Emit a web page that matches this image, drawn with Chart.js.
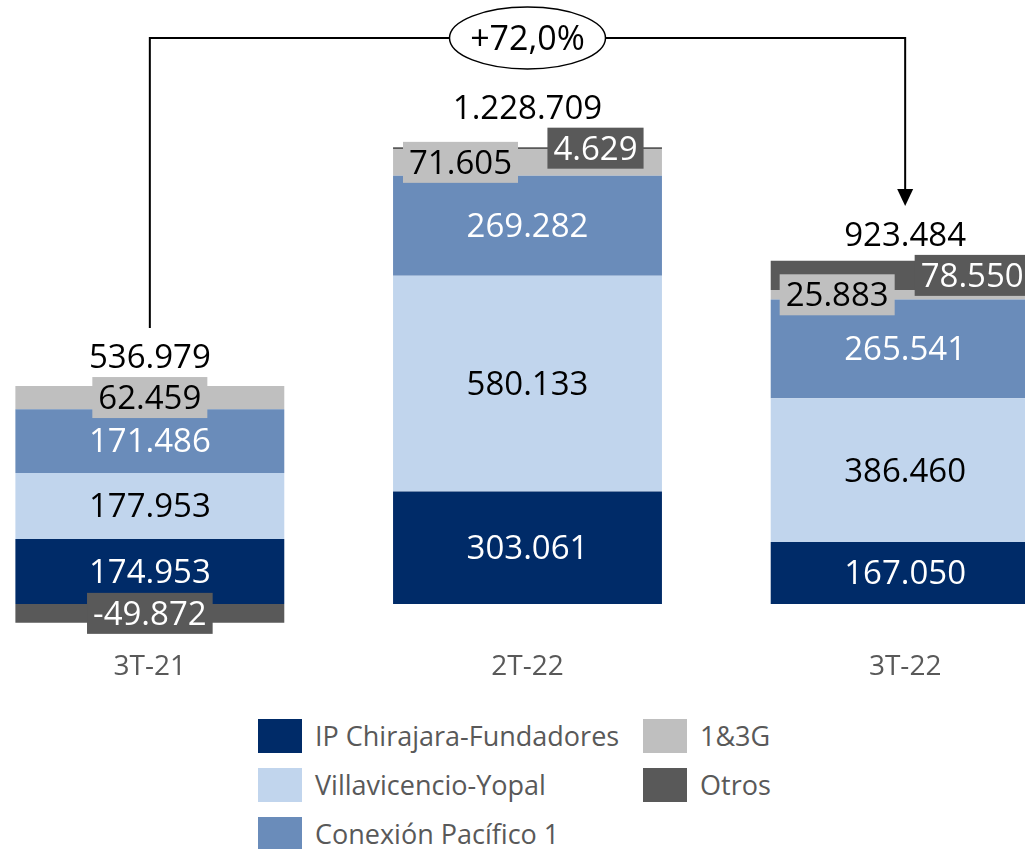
<!DOCTYPE html>
<html>
<head>
<meta charset="utf-8">
<script src="https://cdn.jsdelivr.net/npm/chart.js@4/dist/chart.umd.min.js"></script>
<style>
  body { margin: 0; background: #fff; overflow: hidden; width: 1025px; height: 849px; position: relative; }
  #wrap { position: absolute; left: -39px; top: 0; width: 1133px; height: 700px; }
  #legend {
    position: absolute; left: 258px; top: 711px;
    display: grid; grid-auto-flow: column;
    grid-template-rows: repeat(3, 49px); grid-template-columns: 385px auto;
    font-family: "Open Sans", sans-serif; font-size: 27px; color: #595959;
  }
  .item { display: flex; align-items: center; }
  .box { width: 44px; height: 34px; margin-right: 13px; }
</style>
</head>
<body>
<div id="wrap"><canvas id="myChart" width="1133" height="700"></canvas></div>
<div id="legend"></div>
<script>
// data
let categories = ['3T-21', '2T-22', '3T-22'];
let seriesNames = ['IP Chirajara-Fundadores', 'Villavicencio-Yopal', 'Conexión Pacífico 1', '1&3G', 'Otros'];
let seriesColors = ['#002b68', '#c1d5ed', '#6a8cba', '#bfbfbf', '#595959'];
let ipChirajara = [174953, 303061, 167050];
let villavicencio = [177953, 580133, 386460];
let pacifico1 = [171486, 269282, 265541];
let unoTresG = [62459, 71605, 25883];
let otros = [-49872, 4629, 78550];
let totals = [536979, 1228709, 923484];
let growthLabel = '+72,0%';

// label styling
let labelColors = ['#ffffff', '#000000', '#ffffff', '#000000', '#ffffff'];
// horizontal shift of the boxed labels (1&3G, Otros) per category
let boxShift = { 3: [0, -67, -68], 4: [0, 68, 67] };
let FONT = '33px "Open Sans"';

function fmt(n) {
    let s = Math.abs(n).toString().replace(/\B(?=(\d{3})+(?!\d))/g, '.');
    return (n < 0 ? '-' : '') + s;
}

let labelsPlugin = {
    id: 'labels',
    afterDatasetsDraw(chart) {
        let ctx = chart.ctx;
        ctx.save();
        ctx.font = FONT;
        ctx.textAlign = 'center';
        ctx.textBaseline = 'middle';
        let boxTops = [9999, 9999, 9999];
        chart.data.datasets.forEach((ds, i) => {
            let meta = chart.getDatasetMeta(i);
            meta.data.forEach((bar, j) => {
                let cy = (bar.y + bar.base) / 2;
                let txt = fmt(ds.data[j]);
                let cx = bar.x;
                if (i >= 3) {
                    cx += boxShift[i][j];
                    let w = ctx.measureText(txt).width + 12;
                    let h = 41;
                    ctx.fillStyle = seriesColors[i];
                    ctx.fillRect(cx - w / 2, cy - h / 2, w, h);
                    boxTops[j] = Math.min(boxTops[j], cy - h / 2);
                }
                ctx.fillStyle = labelColors[i];
                ctx.fillText(txt, cx, cy + 2);
            });
        });
        // totals
        let meta0 = chart.getDatasetMeta(0);
        let totY = [];
        meta0.data.forEach((bar, j) => {
            let y = boxTops[j] - 21;
            totY.push(y);
            ctx.fillStyle = '#000';
            ctx.fillText(fmt(totals[j]), bar.x, y + 3);
        });
        // category labels
        ctx.font = '28px "Open Sans"';
        ctx.fillStyle = '#595959';
        let xs = chart.scales.x;
        categories.forEach((c, j) => {
            ctx.fillText(c, xs.getPixelForValue(j), 667);
        });
        // growth connector
        let x0 = xs.getPixelForValue(0), x2 = xs.getPixelForValue(2);
        let lineY = 38;
        let yStart = totY[0] - 28, yEnd = totY[2] - 28;
        ctx.strokeStyle = '#000';
        ctx.lineWidth = 2;
        ctx.beginPath();
        ctx.moveTo(x0, yStart);
        ctx.lineTo(x0, lineY);
        ctx.lineTo(x2, lineY);
        ctx.lineTo(x2, yEnd - 16);
        ctx.stroke();
        ctx.fillStyle = '#000';
        ctx.beginPath();
        ctx.moveTo(x2 - 8, yEnd - 17);
        ctx.lineTo(x2 + 8, yEnd - 17);
        ctx.lineTo(x2, yEnd);
        ctx.closePath();
        ctx.fill();
        let mx = (x0 + x2) / 2;
        ctx.beginPath();
        ctx.ellipse(mx, lineY, 78, 31, 0, 0, Math.PI * 2);
        ctx.fillStyle = '#fff';
        ctx.fill();
        ctx.lineWidth = 1.5;
        ctx.stroke();
        ctx.font = '34px "Open Sans"';
        ctx.fillStyle = '#000';
        ctx.fillText(growthLabel, mx, lineY + 2);
        ctx.restore();
    }
};

function renderChart() {
    let series = [ipChirajara, villavicencio, pacifico1, unoTresG, otros];
    let ctx = document.getElementById('myChart').getContext('2d');
    new Chart(ctx, {
        type: 'bar',
        data: {
            labels: categories,
            datasets: series.map((d, i) => ({
                label: seriesNames[i],
                data: d,
                backgroundColor: seriesColors[i],
                borderWidth: 0,
                categoryPercentage: 1,
                barPercentage: 0.712
            }))
        },
        options: {
            responsive: false,
            animation: false,
            layout: { padding: 0 },
            plugins: { legend: { display: false }, tooltip: { enabled: false } },
            scales: {
                x: { stacked: true, display: false },
                y: { stacked: true, display: false, min: -258000, max: 1625000 }
            }
        },
        plugins: [labelsPlugin]
    });

    // legend, column by column
    let legend = document.getElementById('legend');
    [0, 1, 2, 3, 4].forEach(i => {
        let item = document.createElement('div');
        item.className = 'item';
        item.innerHTML = '<span class="box" style="background:' + seriesColors[i] + '"></span><span>' + seriesNames[i] + '</span>';
        legend.appendChild(item);
    });
}

document.fonts.load(FONT).then(renderChart, renderChart);
</script>
</body>
</html>
